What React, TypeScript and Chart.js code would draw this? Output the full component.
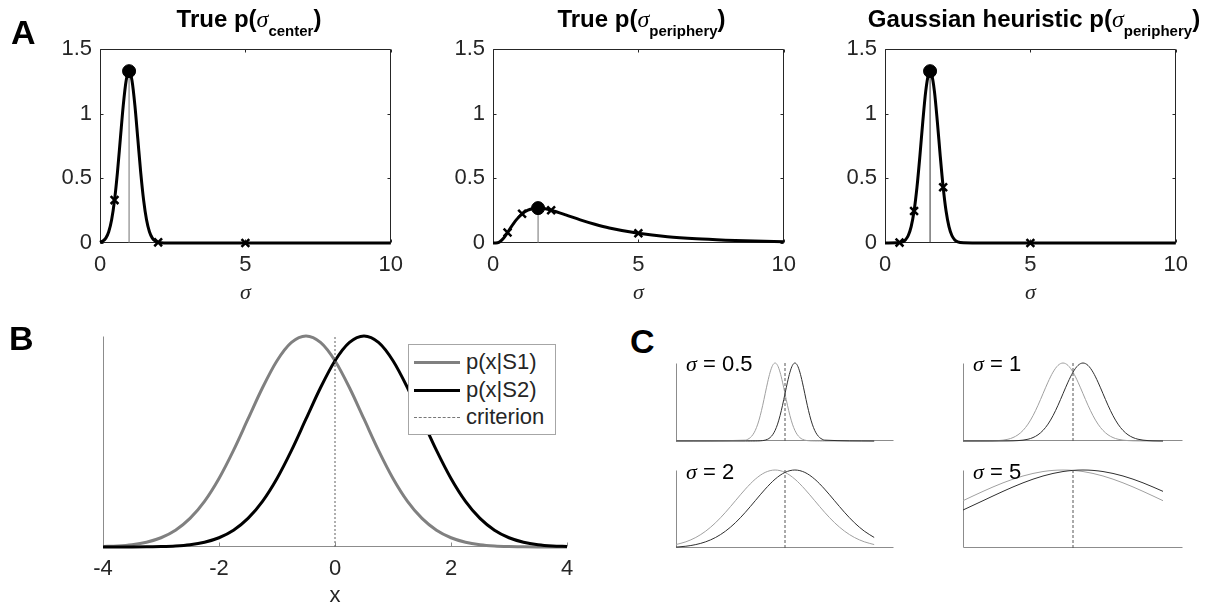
import React, { useEffect, useRef } from 'react';
import { Chart, registerables } from 'chart.js';

Chart.register(...registerables);

const SANS = '"Liberation Sans", Arial, Helvetica, sans-serif';
const SERIF = '"Liberation Serif", "Times New Roman", serif';
const INK = '#262626';

// ---------------- Panel A data ----------------
const markedSigma = [0.5, 1, 2, 5];
const sigmaTicks = [0, 5, 10];
const densityTicks = [0, 0.5, 1, 1.5];

// True p(sigma_center)
const a1Sigma = [0, 0.1, 0.2, 0.3, 0.4, 0.5, 0.6, 0.7, 0.8, 0.9, 1.0, 1.1, 1.2, 1.3, 1.4, 1.5, 1.6, 1.7, 1.8, 1.9, 2.0, 2.1, 2.2, 3, 10];
const a1Density = [0.005, 0.015, 0.038, 0.087, 0.18, 0.332, 0.547, 0.807, 1.065, 1.258, 1.33, 1.258, 1.065, 0.807, 0.547, 0.332, 0.18, 0.087, 0.038, 0.015, 0.005, 0.0015, 0.0004, 0, 0];
const a1MarkDensity = [0.332, 1.33, 0.005, 0];
const a1Mode = 1.0;
const a1Peak = 1.33;

// True p(sigma_periphery)
const a2Sigma = [0, 0.1, 0.2, 0.3, 0.4, 0.5, 0.6, 0.8, 1.0, 1.2, 1.4, 1.55, 1.8, 2.0, 2.5, 3, 3.5, 4, 5, 6, 7, 8, 9, 10];
const a2Density = [0, 0.0002, 0.005, 0.022, 0.048, 0.081, 0.116, 0.179, 0.226, 0.254, 0.267, 0.27, 0.265, 0.254, 0.218, 0.179, 0.145, 0.116, 0.075, 0.048, 0.032, 0.022, 0.015, 0.01];
const a2MarkDensity = [0.081, 0.226, 0.254, 0.075];
const a2Mode = 1.55;
const a2Peak = 0.27;

// Gaussian heuristic p(sigma_periphery)
const a3Sigma = [0, 0.5, 0.6, 0.7, 0.8, 0.9, 1.0, 1.1, 1.2, 1.3, 1.4, 1.5, 1.55, 1.6, 1.7, 1.8, 1.9, 2.0, 2.1, 2.2, 2.3, 2.4, 2.5, 2.7, 3, 10];
const a3Density = [0, 0.003, 0.009, 0.024, 0.058, 0.127, 0.247, 0.432, 0.673, 0.94, 1.174, 1.311, 1.33, 1.311, 1.174, 0.94, 0.673, 0.432, 0.247, 0.127, 0.058, 0.024, 0.009, 0.001, 0, 0];
const a3MarkDensity = [0.003, 0.247, 0.432, 0];
const a3Mode = 1.55;
const a3Peak = 1.33;

// ---------------- Panel B data ----------------
const bX = [-4, -3.75, -3.5, -3.25, -3, -2.75, -2.5, -2.25, -2, -1.75, -1.5, -1.25, -1, -0.75, -0.5, -0.25, 0, 0.25, 0.5, 0.75, 1, 1.25, 1.5, 1.75, 2, 2.25, 2.5, 2.75, 3, 3.25, 3.5, 3.75, 4];
const bS1 = [0.0009, 0.002, 0.0044, 0.0091, 0.0175, 0.0317, 0.054, 0.0863, 0.1295, 0.1826, 0.242, 0.3011, 0.3521, 0.3867, 0.3989, 0.3867, 0.3521, 0.3011, 0.242, 0.1826, 0.1295, 0.0863, 0.054, 0.0317, 0.0175, 0.0091, 0.0044, 0.002, 0.0009, 0.0004, 0.0001, 0, 0];
const bS2 = [0, 0, 0.0001, 0.0004, 0.0009, 0.002, 0.0044, 0.0091, 0.0175, 0.0317, 0.054, 0.0863, 0.1295, 0.1826, 0.242, 0.3011, 0.3521, 0.3867, 0.3989, 0.3867, 0.3521, 0.3011, 0.242, 0.1826, 0.1295, 0.0863, 0.054, 0.0317, 0.0175, 0.0091, 0.0044, 0.002, 0.0009];
const bCriterion = 0;
const bYMax = 0.3989;
const bXTicks = [-4, -2, 0, 2, 4];
const bLegend = ['p(x|S1)', 'p(x|S2)', 'criterion'];

// ---------------- Panel C data ----------------
const cSigmaLabels = ['0.5', '1', '2', '5'];
const cCriterion = 0;

const c05X = [-5.5, -2, -1.875, -1.75, -1.625, -1.5, -1.375, -1.25, -1.125, -1, -0.875, -0.75, -0.625, -0.5, -0.375, -0.25, -0.125, 0, 0.125, 0.25, 0.375, 0.5, 0.625, 0.75, 0.875, 1, 1.125, 1.25, 1.375, 1.5, 1.625, 1.75, 1.875, 2, 4.5];
const c05Gray = [0, 0.0111, 0.0228, 0.0439, 0.0796, 0.1353, 0.2163, 0.3247, 0.4578, 0.6065, 0.7548, 0.8825, 0.9692, 1, 0.9692, 0.8825, 0.7548, 0.6065, 0.4578, 0.3247, 0.2163, 0.1353, 0.0796, 0.0439, 0.0228, 0.0111, 0.0051, 0.0022, 0.0009, 0.0003, 0.0001, 0, 0, 0, 0];
const c05Black = [0, 0, 0, 0, 0.0001, 0.0003, 0.0009, 0.0022, 0.0051, 0.0111, 0.0228, 0.0439, 0.0796, 0.1353, 0.2163, 0.3247, 0.4578, 0.6065, 0.7548, 0.8825, 0.9692, 1, 0.9692, 0.8825, 0.7548, 0.6065, 0.4578, 0.3247, 0.2163, 0.1353, 0.0796, 0.0439, 0.0228, 0.0111, 0];

const c1X = [-5.5, -5.25, -5, -4.75, -4.5, -4.25, -4, -3.75, -3.5, -3.25, -3, -2.75, -2.5, -2.25, -2, -1.75, -1.5, -1.25, -1, -0.75, -0.5, -0.25, 0, 0.25, 0.5, 0.75, 1, 1.25, 1.5, 1.75, 2, 2.25, 2.5, 2.75, 3, 3.25, 3.5, 3.75, 4, 4.25, 4.5];
const c1Gray = [0, 0, 0, 0.0001, 0.0003, 0.0009, 0.0022, 0.0051, 0.0111, 0.0228, 0.0439, 0.0796, 0.1353, 0.2163, 0.3247, 0.4578, 0.6065, 0.7548, 0.8825, 0.9692, 1, 0.9692, 0.8825, 0.7548, 0.6065, 0.4578, 0.3247, 0.2163, 0.1353, 0.0796, 0.0439, 0.0228, 0.0111, 0.0051, 0.0022, 0.0009, 0.0003, 0.0001, 0, 0, 0];
const c1Black = [0, 0, 0, 0, 0, 0, 0, 0.0001, 0.0003, 0.0009, 0.0022, 0.0051, 0.0111, 0.0228, 0.0439, 0.0796, 0.1353, 0.2163, 0.3247, 0.4578, 0.6065, 0.7548, 0.8825, 0.9692, 1, 0.9692, 0.8825, 0.7548, 0.6065, 0.4578, 0.3247, 0.2163, 0.1353, 0.0796, 0.0439, 0.0228, 0.0111, 0.0051, 0.0022, 0.0009, 0.0003];

const c2X = [-5.5, -5, -4.5, -4, -3.5, -3, -2.5, -2, -1.5, -1, -0.5, 0, 0.5, 1, 1.5, 2, 2.5, 3, 3.5, 4, 4.5];
const c2Gray = [0.0439, 0.0796, 0.1353, 0.2163, 0.3247, 0.4578, 0.6065, 0.7548, 0.8825, 0.9692, 1, 0.9692, 0.8825, 0.7548, 0.6065, 0.4578, 0.3247, 0.2163, 0.1353, 0.0796, 0.0439];
const c2Black = [0.0111, 0.0228, 0.0439, 0.0796, 0.1353, 0.2163, 0.3247, 0.4578, 0.6065, 0.7548, 0.8825, 0.9692, 1, 0.9692, 0.8825, 0.7548, 0.6065, 0.4578, 0.3247, 0.2163, 0.1353];

const c5X = [-5.5, -4.5, -3.5, -2.5, -1.5, -0.5, 0.5, 1.5, 2.5, 3.5, 4.5];
const c5Gray = [0.6065, 0.7261, 0.8353, 0.9231, 0.9802, 1, 0.9802, 0.9231, 0.8353, 0.7261, 0.6065];
const c5Black = [0.4868, 0.6065, 0.7261, 0.8353, 0.9231, 0.9802, 1, 0.9802, 0.9231, 0.8353, 0.7261];

// ---------------- helpers ----------------
const pts = (xs: number[], ys: number[]) => xs.map((x, i) => ({ x, y: ys[i] }));
const plainLabel = (v: any) => String(Number(v));

type FrameOpts = { box: boolean; left: boolean; bottom: boolean; color: string; tickLen: number; ticksX: boolean; ticksY: boolean };

function framePlugin(o: FrameOpts) {
  return {
    id: 'frame',
    beforeDatasetsDraw(chart: any) {
      const { ctx, chartArea: a, scales } = chart;
      const L = Math.round(a.left) + 0.5;
      const R = Math.round(a.right) - 0.5;
      const T = Math.round(a.top) + 0.5;
      const B = Math.round(a.bottom) - 0.5;
      ctx.save();
      ctx.strokeStyle = o.color;
      ctx.lineWidth = 1;
      ctx.beginPath();
      if (o.box) {
        ctx.rect(L, T, R - L, B - T);
      } else {
        if (o.left) { ctx.moveTo(L, T); ctx.lineTo(L, B); }
        if (o.bottom) { ctx.moveTo(L, B); ctx.lineTo(R, B); }
      }
      if (o.ticksX && scales.x) {
        for (const t of scales.x.ticks) {
          const px = Math.round(scales.x.getPixelForValue(t.value)) + 0.5;
          ctx.moveTo(px, B); ctx.lineTo(px, B - o.tickLen);
          if (o.box) { ctx.moveTo(px, T); ctx.lineTo(px, T + o.tickLen); }
        }
      }
      if (o.ticksY && scales.y) {
        for (const t of scales.y.ticks) {
          const py = Math.round(scales.y.getPixelForValue(t.value)) + 0.5;
          ctx.moveTo(L, py); ctx.lineTo(L + o.tickLen, py);
          if (o.box) { ctx.moveTo(R, py); ctx.lineTo(R - o.tickLen, py); }
        }
      }
      ctx.stroke();
      ctx.restore();
    },
  };
}

const tickFont = { size: 22, family: SANS };

function aConfig(sig: number[], dens: number[], markY: number[], mode: number, peak: number, modeColor: string) {
  return {
    type: 'line',
    data: {
      datasets: [
        { label: 'mode', data: [{ x: mode, y: peak }], showLine: false, pointStyle: 'circle', pointRadius: 6.5, pointBackgroundColor: '#000', pointBorderColor: '#000', pointBorderWidth: 1, clip: false },
        { label: 'marked', data: pts(markedSigma, markY), showLine: false, pointStyle: 'crossRot', pointRadius: 5.5, pointBorderColor: '#000', pointBorderWidth: 2.5, pointBackgroundColor: '#000', clip: false },
        { label: 'density', data: pts(sig, dens), borderColor: '#000', borderWidth: 3, pointRadius: 0, cubicInterpolationMode: 'monotone', fill: false, clip: false },
        { label: 'modeLine', data: [{ x: mode, y: 0 }, { x: mode, y: peak }], borderColor: modeColor, borderWidth: 1, pointRadius: 0, clip: false },
      ],
    },
    options: {
      responsive: false,
      animation: false,
      events: [],
      layout: { padding: { top: 15, right: 15, left: 0, bottom: 0 } },
      plugins: { legend: { display: false }, tooltip: { enabled: false } },
      scales: {
        x: {
          type: 'linear', min: sigmaTicks[0], max: sigmaTicks[sigmaTicks.length - 1],
          afterFit: (s: any) => { s.height = 63; },
          afterBuildTicks: (s: any) => { s.ticks = sigmaTicks.map((v) => ({ value: v })); },
          ticks: { padding: 9, color: INK, font: tickFont, callback: plainLabel },
          grid: { display: false, drawTicks: false },
          border: { display: false },
          title: { display: true, text: 'σ', color: INK, padding: 0, font: { size: 22, family: SERIF, style: 'italic' } },
        },
        y: {
          type: 'linear', min: densityTicks[0], max: densityTicks[densityTicks.length - 1],
          afterFit: (s: any) => { s.width = 60; },
          afterBuildTicks: (s: any) => { s.ticks = densityTicks.map((v) => ({ value: v })); },
          ticks: { padding: 8, color: INK, font: tickFont, callback: plainLabel },
          grid: { display: false, drawTicks: false },
          border: { display: false },
        },
      },
    },
    plugins: [framePlugin({ box: true, left: true, bottom: true, color: INK, tickLen: 3, ticksX: true, ticksY: true })],
  };
}

function bConfig() {
  return {
    type: 'line',
    data: {
      datasets: [
        { label: bLegend[2], data: [{ x: bCriterion, y: 0 }, { x: bCriterion, y: bYMax }], borderColor: '#606060', borderWidth: 1, borderDash: [2, 2], pointRadius: 0, clip: false },
        { label: bLegend[1], data: pts(bX, bS2), borderColor: '#000', borderWidth: 3, pointRadius: 0, cubicInterpolationMode: 'monotone', clip: false },
        { label: bLegend[0], data: pts(bX, bS1), borderColor: '#808080', borderWidth: 3, pointRadius: 0, cubicInterpolationMode: 'monotone', clip: false },
      ],
    },
    options: {
      responsive: false,
      animation: false,
      events: [],
      layout: { padding: { top: 15, right: 20, left: 20, bottom: 0 } },
      plugins: { legend: { display: false }, tooltip: { enabled: false } },
      scales: {
        x: {
          type: 'linear', min: bXTicks[0], max: bXTicks[bXTicks.length - 1],
          afterFit: (s: any) => { s.height = 62; },
          afterBuildTicks: (s: any) => { s.ticks = bXTicks.map((v) => ({ value: v })); },
          ticks: { padding: 9, color: INK, font: tickFont, callback: plainLabel },
          grid: { display: false, drawTicks: false },
          border: { display: false },
          title: { display: true, text: 'x', color: INK, padding: 0, font: { size: 22, family: SANS } },
        },
        y: { type: 'linear', min: 0, max: bYMax, display: false },
      },
    },
    plugins: [framePlugin({ box: false, left: true, bottom: true, color: '#8c8c8c', tickLen: 4, ticksX: true, ticksY: false })],
  };
}

function cConfig(xs: number[], gray: number[], black: number[]) {
  return {
    type: 'line',
    data: {
      datasets: [
        { label: 'criterion', data: [{ x: cCriterion, y: 0 }, { x: cCriterion, y: 1 }], borderColor: '#555', borderWidth: 1, borderDash: [3, 2], pointRadius: 0, clip: false },
        { label: 'S2', data: pts(xs, black), borderColor: '#2e2e2e', borderWidth: 1, pointRadius: 0, cubicInterpolationMode: 'monotone', clip: false },
        { label: 'S1', data: pts(xs, gray), borderColor: '#a0a0a0', borderWidth: 1, pointRadius: 0, cubicInterpolationMode: 'monotone', clip: false },
      ],
    },
    options: {
      responsive: false,
      animation: false,
      events: [],
      layout: { padding: 5 },
      plugins: { legend: { display: false }, tooltip: { enabled: false } },
      scales: {
        x: { type: 'linear', min: -5.5, max: 5.5, display: false },
        y: { type: 'linear', min: 0, max: 1, display: false },
      },
    },
    plugins: [framePlugin({ box: false, left: true, bottom: true, color: '#8c8c8c', tickLen: 0, ticksX: false, ticksY: false })],
  };
}

function CanvasChart({ left, top, width, height, make }: { left: number; top: number; width: number; height: number; make: () => any }) {
  const ref = useRef<HTMLCanvasElement | null>(null);
  useEffect(() => {
    const chart = new Chart(ref.current as HTMLCanvasElement, make() as any);
    return () => chart.destroy();
  }, []);
  return <canvas ref={ref} width={width} height={height} style={{ position: 'absolute', left, top, width, height, display: 'block' }} />;
}

function PanelTitle({ cx, main, sub }: { cx: number; main: string; sub: string }) {
  return (
    <div style={{ position: 'absolute', left: cx - 250, top: 6, width: 500, textAlign: 'center', whiteSpace: 'nowrap', fontFamily: SANS, fontWeight: 'bold', fontSize: 24, lineHeight: '26px', color: '#000' }}>
      {main}p(<span style={{ fontFamily: SERIF, fontStyle: 'italic', fontWeight: 'normal' }}>σ</span><span style={{ fontSize: 15, position: 'relative', top: 9 }}>{sub}</span>)
    </div>
  );
}

function Letter({ x, y, t }: { x: number; y: number; t: string }) {
  return <div style={{ position: 'absolute', left: x, top: y, fontFamily: SANS, fontWeight: 'bold', fontSize: 34, lineHeight: '34px', color: '#000' }}>{t}</div>;
}

function SigmaLabel({ x, y, v }: { x: number; y: number; v: string }) {
  return (
    <div style={{ position: 'absolute', left: x, top: y, fontFamily: SANS, fontSize: 22, lineHeight: '22px', color: '#000', whiteSpace: 'nowrap' }}>
      <span style={{ fontFamily: SERIF, fontStyle: 'italic' }}>σ</span> = {v}
    </div>
  );
}

function LegendB() {
  const rowTop = [17, 45, 72];
  const lineStyles = [
    { borderTop: '3px solid #808080', marginTop: -1.5 },
    { borderTop: '3px solid #000', marginTop: -1.5 },
    { borderTop: '1px dashed #777', marginTop: -0.5 },
  ];
  return (
    <div style={{ position: 'absolute', left: 408, top: 344, width: 148, height: 91, border: '1px solid #a6a6a6', background: '#fff', boxSizing: 'border-box' }}>
      {bLegend.map((label, i) => (
        <React.Fragment key={label}>
          <div style={{ position: 'absolute', left: 5, top: rowTop[i], width: 46, height: 0, ...lineStyles[i] }} />
          <div style={{ position: 'absolute', left: 57, top: rowTop[i] - 13, fontFamily: SANS, fontSize: 22, lineHeight: '26px', color: INK, whiteSpace: 'nowrap' }}>{label}</div>
        </React.Fragment>
      ))}
    </div>
  );
}

export default function App() {
  return (
    <div style={{ position: 'absolute', left: 0, top: 0, width: 1211, height: 607, background: '#fff', overflow: 'hidden' }}>
      {/* Panel A */}
      <CanvasChart left={40} top={28} width={372} height={278} make={() => aConfig(a1Sigma, a1Density, a1MarkDensity, a1Mode, a1Peak, '#707070')} />
      <CanvasChart left={433} top={28} width={372} height={278} make={() => aConfig(a2Sigma, a2Density, a2MarkDensity, a2Mode, a2Peak, '#707070')} />
      <CanvasChart left={825} top={28} width={372} height={278} make={() => aConfig(a3Sigma, a3Density, a3MarkDensity, a3Mode, a3Peak, '#333')} />
      <PanelTitle cx={249} main="True " sub="center" />
      <PanelTitle cx={641.5} main="True " sub="periphery" />
      <PanelTitle cx={1034} main="Gaussian heuristic " sub="periphery" />
      <Letter x={11} y={15} t="A" />

      {/* Panel B */}
      <CanvasChart left={83} top={321} width={504} height={288} make={() => bConfig()} />
      <LegendB />
      <Letter x={9} y={321} t="B" />

      {/* Panel C */}
      <CanvasChart left={671} top={358} width={228} height={88} make={() => cConfig(c05X, c05Gray, c05Black)} />
      <CanvasChart left={958} top={358} width={230} height={88} make={() => cConfig(c1X, c1Gray, c1Black)} />
      <CanvasChart left={671} top={465} width={228} height={88} make={() => cConfig(c2X, c2Gray, c2Black)} />
      <CanvasChart left={958} top={465} width={230} height={88} make={() => cConfig(c5X, c5Gray, c5Black)} />
      <SigmaLabel x={686} y={353} v={cSigmaLabels[0]} />
      <SigmaLabel x={973} y={353} v={cSigmaLabels[1]} />
      <SigmaLabel x={686} y={461} v={cSigmaLabels[2]} />
      <SigmaLabel x={973} y={461} v={cSigmaLabels[3]} />
      <Letter x={630} y={324} t="C" />
    </div>
  );
}
